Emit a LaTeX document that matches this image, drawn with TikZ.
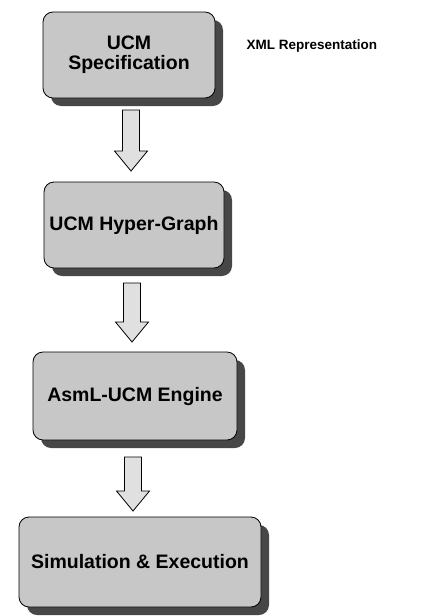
\documentclass[tikz,border=0pt]{standalone}
\usepackage{fontspec}
\setmainfont{Liberation Sans}
\usetikzlibrary{shadows,calc}
\tikzset{
  stagebox/.style={draw=black, line width=0.8pt, fill=black!22, rounded corners=10pt,
    font=\bfseries\fontsize{19.5}{22}\selectfont, align=center, inner sep=0pt,
    drop shadow={shadow xshift=8pt, shadow yshift=-8pt, fill=black!72, opacity=1}},
  blockarrow/.style={draw=black, line width=0.8pt, fill=black!12},
  note/.style={font=\bfseries\fontsize{13.5}{16}\selectfont}
}
\newcommand\downblock[2]{%
  \draw[blockarrow] ($(#1)+(-8.5,0)$) -- ($(#1)+(8.5,0)$) -- ($(#2)+(8.5,-20)$) -- ($(#2)+(16.5,-20)$)
    -- (#2) -- ($(#2)+(-16.5,-20)$) -- ($(#2)+(-8.5,-20)$) -- cycle;}
\begin{document}
\begin{tikzpicture}[x=1pt,y=-1pt]
\useasboundingbox (0,0) rectangle (437,616);
\node[stagebox, minimum width=172pt, minimum height=86pt] (spec) at (129,55) {UCM\\[-2pt]Specification};
\node[note, anchor=west] (xml) at (243,46) {XML Representation};
\node[stagebox, minimum width=180pt, minimum height=86pt] (hyper) at (134,225) {UCM Hyper-Graph};
\node[stagebox, minimum width=204pt, minimum height=88pt] (engine) at (135,396) {AsmL-UCM Engine};
\node[stagebox, minimum width=242pt, minimum height=90pt] (sim) at (140,562) {Simulation \& Execution};
\coordinate (a1s) at (131,110); \coordinate (a1e) at (131,171);
\coordinate (a2s) at (132,283); \coordinate (a2e) at (132,342);
\coordinate (a3s) at (133,457); \coordinate (a3e) at (133,511);
\downblock{a1s}{a1e}
\downblock{a2s}{a2e}
\downblock{a3s}{a3e}
\end{tikzpicture}
\end{document}
